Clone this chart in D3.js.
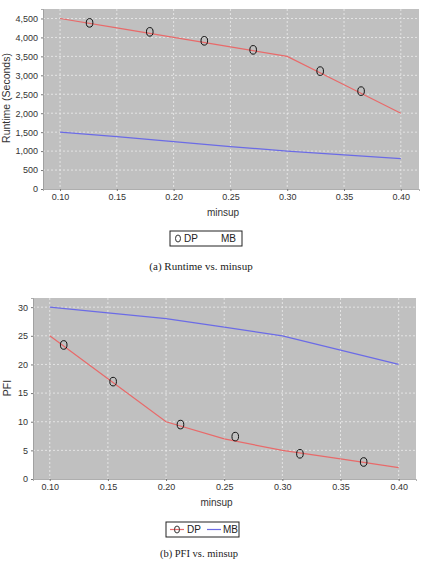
<!DOCTYPE html>
<html>
<head>
<meta charset="utf-8">
<script src="https://cdn.jsdelivr.net/npm/d3@7"></script>
<style>
  body { margin: 0; background: #fff; }
  svg { display: block; }
  .tick text { font-family: Arial, "Liberation Sans", sans-serif; font-size: 9px; fill: #333; }
</style>
</head>
<body>
<div id="chart"></div>
<script>
// shared x values (minsup)
var minsup = [0.10, 0.15, 0.20, 0.25, 0.30, 0.35, 0.40];
var xTicks = [0.10, 0.15, 0.20, 0.25, 0.30, 0.35, 0.40];

// (a) runtime in seconds
var runtimeDP = [4500, 4250, 4000, 3750, 3500, 2750, 2000];
var runtimeMB = [1500, 1380, 1250, 1120, 1000, 900, 800];
var runtimeMarkX = [0.126, 0.179, 0.227, 0.270, 0.329, 0.365];
var runtimeMarkY = [4384, 4147, 3910, 3672, 3111, 2583];
var runtimeTicks = [0, 500, 1000, 1500, 2000, 2500, 3000, 3500, 4000, 4500];

// (b) PFI
var pfiDP = [25, 17.5, 10, 7, 5, 3.5, 2];
var pfiMB = [30, 29, 28, 26.5, 25, 22.5, 20];
var pfiMarkX = [0.112, 0.1545, 0.2124, 0.2595, 0.3151, 0.3699];
var pfiMarkY = [23.4, 17.0, 9.5, 7.4, 4.4, 2.97];
var pfiTicks = [0, 5, 10, 15, 20, 25, 30];

var svg = d3.select('#chart')
  .append('svg')
  .attr('width', 421)
  .attr('height', 567);

function drawPanel (opt) {
  var x = d3.scaleLinear().domain(opt.xDomain).range([opt.left, opt.right]);
  var y = d3.scaleLinear().domain(opt.yDomain).range([opt.bottom, opt.top]);
  var g = svg.append('g');

  g.append('rect')
    .attr('x', opt.left)
    .attr('y', opt.top)
    .attr('width', opt.right - opt.left)
    .attr('height', opt.bottom - opt.top)
    .attr('fill', '#c0c0c0');

  // dashed white grid
  g.selectAll('.vgrid')
    .data(xTicks)
    .enter()
    .append('line')
    .attr('x1', function (d) { return x(d); })
    .attr('x2', function (d) { return x(d); })
    .attr('y1', opt.top)
    .attr('y2', opt.bottom)
    .attr('stroke', '#eeeeee')
    .attr('stroke-width', 0.8)
    .attr('stroke-dasharray', '2,2');

  g.selectAll('.hgrid')
    .data(opt.yTicks.filter(function (d) { return d > 0; }))
    .enter()
    .append('line')
    .attr('x1', opt.left)
    .attr('x2', opt.right)
    .attr('y1', function (d) { return y(d); })
    .attr('y2', function (d) { return y(d); })
    .attr('stroke', '#eeeeee')
    .attr('stroke-width', 0.8)
    .attr('stroke-dasharray', '2,2');

  var xAxis = g.append('g')
    .attr('transform', 'translate(0,' + opt.bottom + ')')
    .call(d3.axisBottom(x).tickValues(xTicks).tickFormat(d3.format('.2f')).tickSize(2).tickPadding(3));
  var yAxis = g.append('g')
    .attr('transform', 'translate(' + opt.left + ',0)')
    .call(d3.axisLeft(y).tickValues(opt.yTicks).tickFormat(d3.format(',')).tickSize(2).tickPadding(3));
  [xAxis, yAxis].forEach(function (a) {
    a.select('.domain').attr('stroke', '#999').attr('stroke-width', 0.8);
    a.selectAll('.tick line').attr('stroke', '#777');
  });

  var line = d3.line()
    .x(function (d, i) { return x(minsup[i]); })
    .y(function (d) { return y(d); });

  g.append('path')
    .datum(opt.mb)
    .attr('d', line)
    .attr('fill', 'none')
    .attr('stroke', '#6b6be6')
    .attr('stroke-width', 1.2);

  g.append('path')
    .datum(opt.dp)
    .attr('d', line)
    .attr('fill', 'none')
    .attr('stroke', '#e86a6a')
    .attr('stroke-width', 1.2);

  g.selectAll('.mark')
    .data(opt.markX)
    .enter()
    .append('ellipse')
    .attr('cx', function (d) { return x(d); })
    .attr('cy', function (d, i) { return y(opt.markY[i]); })
    .attr('rx', 3.3)
    .attr('ry', 4.3)
    .attr('fill', 'none')
    .attr('stroke', '#111')
    .attr('stroke-width', 1);

  // axis titles
  g.append('text')
    .attr('x', (opt.left + opt.right) / 2 - 8)
    .attr('y', opt.bottom + 27)
    .attr('text-anchor', 'middle')
    .style('font-family', 'Arial, "Liberation Sans", sans-serif')
    .style('font-size', '10px')
    .attr('fill', '#333')
    .text('minsup');

  g.append('text')
    .attr('transform', 'translate(' + opt.yTitleX + ',' + opt.yTitleY + ') rotate(-90)')
    .attr('text-anchor', 'middle')
    .style('font-family', 'Arial, "Liberation Sans", sans-serif')
    .style('font-size', '10.5px')
    .attr('fill', '#333')
    .text(opt.yTitle);

  // legend
  var lg = g.append('g').attr('transform', 'translate(' + opt.legendX + ',' + opt.legendY + ')');
  lg.append('rect')
    .attr('width', opt.legendW)
    .attr('height', 15)
    .attr('fill', '#fff')
    .attr('stroke', '#222')
    .attr('stroke-width', 1);
  if (opt.legendLines) {
    lg.append('line').attr('x1', 4).attr('x2', 18).attr('y1', 7.5).attr('y2', 7.5)
      .attr('stroke', '#e86a6a').attr('stroke-width', 1.2);
    lg.append('line').attr('x1', 41).attr('x2', 55).attr('y1', 7.5).attr('y2', 7.5)
      .attr('stroke', '#6b6be6').attr('stroke-width', 1.2);
  }
  lg.append('ellipse')
    .attr('cx', opt.legendLines ? 11 : 8)
    .attr('cy', 7.5)
    .attr('rx', 2.5)
    .attr('ry', 3.5)
    .attr('fill', 'none')
    .attr('stroke', '#333');
  lg.append('text').attr('x', opt.legendLines ? 21 : 14).attr('y', 11)
    .style('font-family', 'Arial, "Liberation Sans", sans-serif').style('font-size', '10px')
    .attr('fill', '#222').text('DP');
  lg.append('text').attr('x', opt.legendLines ? 57 : 51).attr('y', 11)
    .style('font-family', 'Arial, "Liberation Sans", sans-serif').style('font-size', '10px')
    .attr('fill', '#222').text('MB');

  // caption
  g.append('text')
    .attr('x', opt.captionX)
    .attr('y', opt.captionY)
    .attr('text-anchor', 'middle')
    .style('font-family', '"Liberation Serif", "Times New Roman", serif')
    .style('font-size', opt.captionSize)
    .attr('fill', '#222')
    .text(opt.caption);
}

drawPanel({
  left: 43, right: 419, top: 9, bottom: 189,
  xDomain: [0.085, 0.416], yDomain: [0, 4750], yTicks: runtimeTicks,
  dp: runtimeDP, mb: runtimeMB, markX: runtimeMarkX, markY: runtimeMarkY,
  yTitle: 'Runtime (Seconds)', yTitleX: 10, yTitleY: 98,
  legendX: 170, legendY: 231, legendW: 72, legendLines: false,
  caption: '(a) Runtime vs. minsup', captionX: 201, captionY: 270, captionSize: '11px'
});

drawPanel({
  left: 33, right: 416, top: 298, bottom: 479,
  xDomain: [0.0856, 0.4149], yDomain: [0, 31.6], yTicks: pfiTicks,
  dp: pfiDP, mb: pfiMB, markX: pfiMarkX, markY: pfiMarkY,
  yTitle: 'PFI', yTitleX: 11, yTitleY: 388,
  legendX: 166, legendY: 522, legendW: 73, legendLines: true,
  caption: '(b) PFI vs. minsup', captionX: 199, captionY: 557, captionSize: '10.5px'
});
</script>
</body>
</html>
